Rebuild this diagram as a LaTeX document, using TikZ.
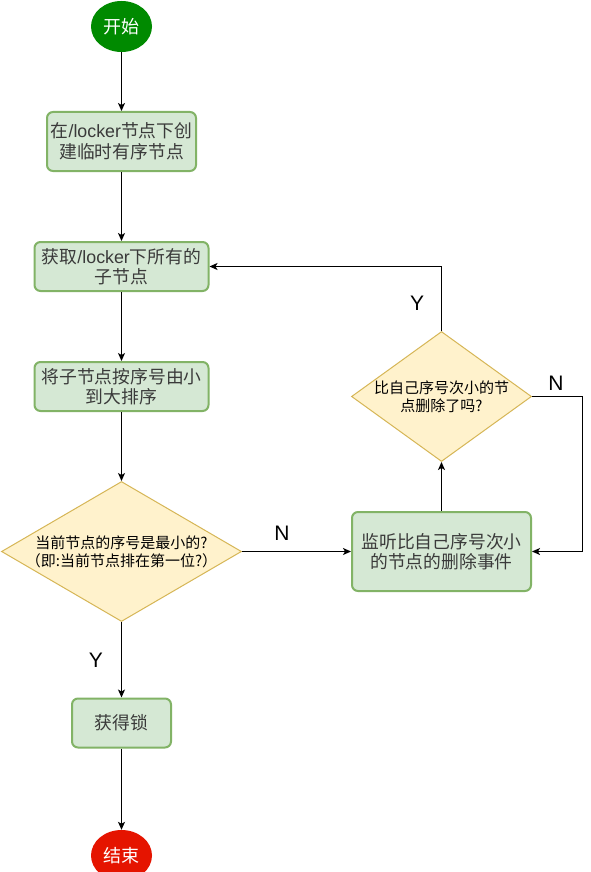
\documentclass[tikz,border=0pt]{standalone}
\usepackage{fontspec}
\setmainfont{Noto Sans CJK SC}
\newfontfamily\lat{Liberation Sans}
\usetikzlibrary{shapes.geometric,arrows.meta}
\definecolor{startg}{HTML}{008A00}
\definecolor{endr}{HTML}{E51400}
\definecolor{boxfill}{HTML}{D5E8D4}
\definecolor{boxline}{HTML}{82B366}
\definecolor{decfill}{HTML}{FFF2CC}
\definecolor{decline}{HTML}{D6B656}
\definecolor{boxtext}{HTML}{3A3A3A}
\begin{document}
\begin{tikzpicture}[x=1pt,y=-1pt,
 terminal/.style={ellipse,draw=none,minimum width=61pt,minimum height=51pt,inner sep=0pt,text=white,font=\fontsize{18}{21}\selectfont},
 procbox/.style={rectangle,rounded corners=6pt,draw=boxline,fill=boxfill,line width=2pt,inner sep=0pt,align=center,text=boxtext,font=\fontsize{17.8}{20.5}\selectfont},
 decision/.style={diamond,draw=decline,fill=decfill,line width=1pt,inner sep=0pt},
 dectext/.style={align=center,font=\fontsize{15}{18}\selectfont,inner sep=0pt},
 flow/.style={draw,line width=1pt,-{Stealth[length=8pt,width=7pt,inset=2pt]}},
 yn/.style={font=\lat\fontsize{21}{21}\selectfont,inner sep=0pt}
]
\fill[white] (0,0) rectangle (590,872);
\useasboundingbox (0,0) rectangle (590,872);

\node[terminal,fill=startg] (start) at (121.5,26.5) {开始};
\node[procbox,minimum width=149pt,minimum height=59pt] (b1) at (121.5,141.5) {在{\lat /locker}节点下创\\建临时有序节点};
\node[procbox,minimum width=174pt,minimum height=49pt] (b2) at (121.5,266.5) {获取{\lat /locker}下所有的\\子节点};
\node[procbox,minimum width=174pt,minimum height=49pt] (b3) at (121.5,386.5) {将子节点按序号由小\\到大排序};
\node[decision,minimum width=240pt,minimum height=140pt] (d1) at (121.5,551.5) {};
\node[dectext] (d1t) at (d1.center) {当前节点的序号是最小的?\\（即:当前节点排在第一位?）};
\node[procbox,minimum width=99pt,minimum height=49pt] (b4) at (121.5,723) {获得锁};
\node[terminal,fill=endr] (end) at (121.5,855.5) {结束};
\node[procbox,minimum width=179pt,minimum height=79pt] (b5) at (441.5,551.5) {监听比自己序号次小\\的节点的删除事件};
\node[decision,minimum width=180pt,minimum height=130pt] (d2) at (441.5,396.5) {};
\node[dectext] (d2t) at (d2.center) {比自己序号次小的节\\点删除了吗?};
\coordinate (nr) at (582,396.5);

\draw[flow] (start) -- (b1);
\draw[flow] (b1) -- (b2);
\draw[flow] (b2) -- (b3);
\draw[flow] (b3) -- (d1);
\draw[flow] (d1) -- (b4);
\draw[flow] (b4) -- (end);
\draw[flow] (d1.east) -- (b5.west);
\draw[flow] (b5.north) -- (d2.south);
\draw[flow] (d2.north) |- (b2.east);
\draw[flow] (d2.east) -- (nr) |- (b5.east);

\node[yn] (ly1) at (417,303) {Y};
\node[yn] (ln1) at (556,383) {N};
\node[yn] (ln2) at (282,533) {N};
\node[yn] (ly2) at (96,660) {Y};
\end{tikzpicture}
\end{document}
